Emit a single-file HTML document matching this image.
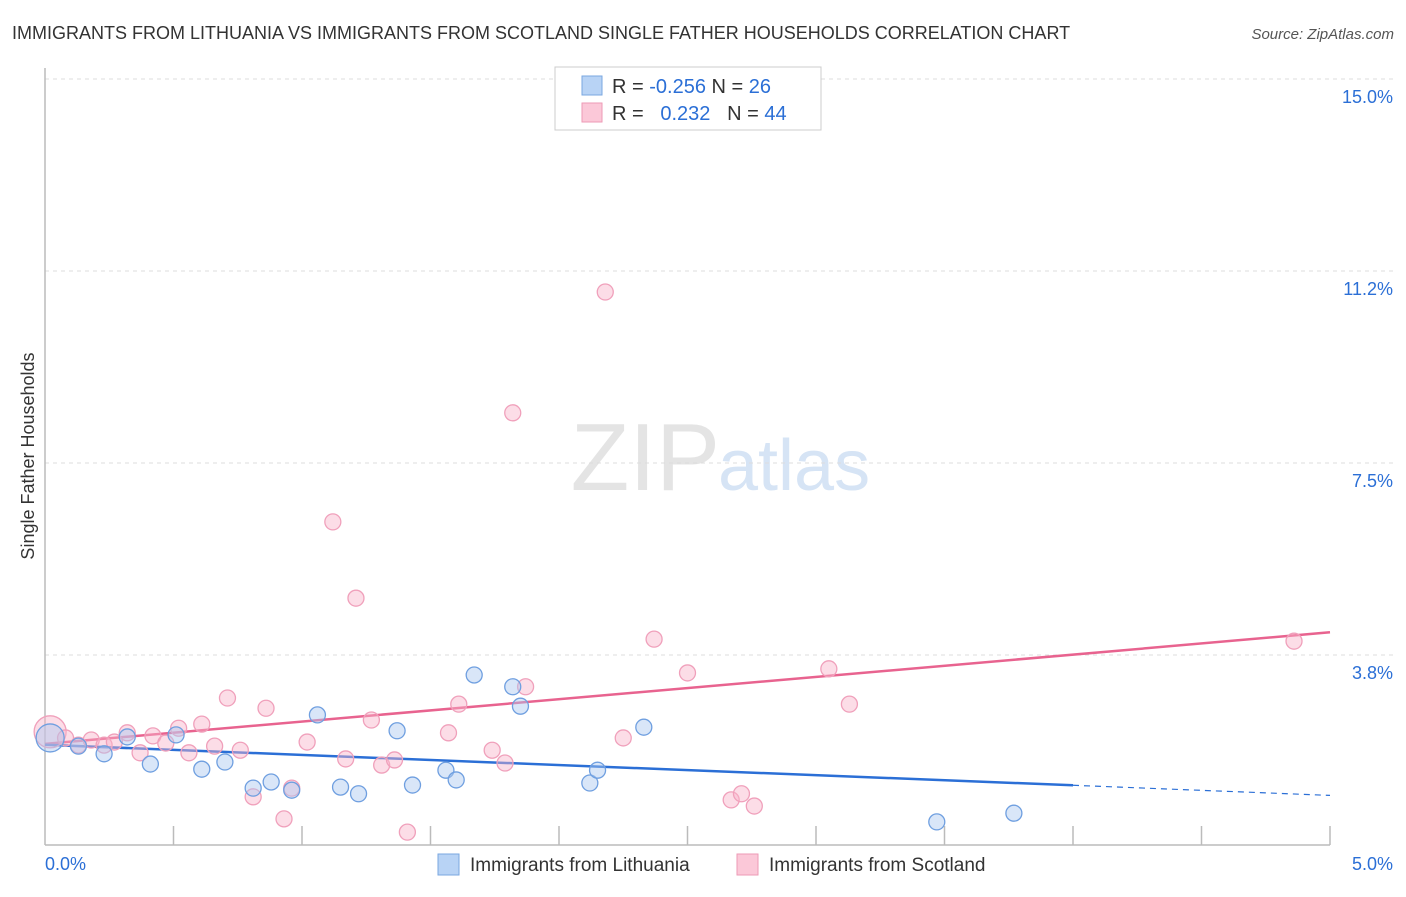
<!DOCTYPE html>
<html><head><meta charset="utf-8"><style>
body{margin:0;background:#fff;font-family:"Liberation Sans",sans-serif;}
svg text{font-family:"Liberation Sans",sans-serif;}
</style></head><body>
<svg id="chart" width="1406" height="892" xmlns="http://www.w3.org/2000/svg">
<text x="12" y="39" font-size="18" fill="#333">IMMIGRANTS FROM LITHUANIA VS IMMIGRANTS FROM SCOTLAND SINGLE FATHER HOUSEHOLDS CORRELATION CHART</text>
<text x="1394" y="39" font-size="15" fill="#555" font-style="italic" text-anchor="end">Source: ZipAtlas.com</text>
<text x="720" y="490" font-size="96" fill="#e4e4e4" text-anchor="end" font-family="Liberation Serif">ZIP</text>
<text x="718" y="490" font-size="72" fill="#d6e4f5">atlas</text>
<text transform="translate(34,456) rotate(-90)" font-size="18" fill="#333" text-anchor="middle">Single Father Households</text>
<g id="grid"></g><g id="axes"></g><g id="trend"></g><g id="pts"></g>
<g>
<rect x="555" y="67" width="266" height="63" fill="#fff" stroke="#ccc"/>
<rect x="582" y="76" width="20" height="19" fill="#b8d3f5" stroke="#7aa7e0"/>
<text x="612" y="93" font-size="20" fill="#333">R = <tspan fill="#2b6fd6">-0.256</tspan>   N = <tspan fill="#2b6fd6">26</tspan></text>
<rect x="582" y="103" width="20" height="19" fill="#fbc8d8" stroke="#ee9ab6"/>
<text x="612" y="120" font-size="20" fill="#333" xml:space="preserve">R =   <tspan fill="#2b6fd6">0.232</tspan>   N = <tspan fill="#2b6fd6">44</tspan></text>
</g>
<g><rect x="438" y="854" width="21" height="21" fill="#b8d3f5" stroke="#7aa7e0"/><text x="470" y="871" font-size="19" fill="#333">Immigrants from Lithuania</text></g>
<g><rect x="737" y="854" width="21" height="21" fill="#fbc8d8" stroke="#ee9ab6"/><text x="769" y="871" font-size="19" fill="#333">Immigrants from Scotland</text></g>
</svg>
<script>
const yTicks=[15.0,11.2,7.5,3.8];
const yTickVals=[15,11.25,7.5,3.75];
const xTickLabels=["0.0%","5.0%"];
const blueX=[0.02,0.13,0.23,0.32,0.41,0.51,0.61,0.70,0.81,0.88,0.96,1.06,1.15,1.22,1.37,1.43,1.56,1.60,1.67,1.82,1.85,2.12,2.15,2.33,3.47,3.77];
const blueY=[2.13,1.97,1.82,2.15,1.62,2.19,1.52,1.66,1.15,1.27,1.11,2.58,1.17,1.04,2.27,1.21,1.50,1.31,3.36,3.13,2.75,1.25,1.50,2.34,0.49,0.66];
const pinkX=[0.02,0.08,0.13,0.18,0.23,0.27,0.32,0.37,0.42,0.47,0.52,0.56,0.61,0.66,0.71,0.76,0.81,0.86,0.93,0.96,1.02,1.12,1.17,1.21,1.27,1.31,1.36,1.41,1.57,1.61,1.74,1.79,1.82,1.87,2.18,2.25,2.37,2.50,2.67,2.71,2.76,3.05,3.13,4.86];
const pinkY=[2.25,2.13,1.99,2.09,1.99,2.05,2.23,1.84,2.17,2.03,2.32,1.84,2.40,1.97,2.91,1.89,0.98,2.71,0.55,1.15,2.05,6.35,1.72,4.86,2.48,1.60,1.70,0.29,2.23,2.79,1.89,1.64,8.48,3.13,10.84,2.13,4.06,3.40,0.92,1.04,0.80,3.48,2.79,4.02];
const NS='http://www.w3.org/2000/svg';
const X=v=>45+v*257, Y=v=>847-v*51.2;
function mk(t,a,p){const e=document.createElementNS(NS,t);for(const k in a)e.setAttribute(k,a[k]);document.getElementById(p).appendChild(e);return e;}
yTickVals.forEach((v,i)=>{
 const l=mk('line',{x1:45,x2:1394,y1:Y(v),y2:Y(v),stroke:'#ddd','stroke-dasharray':'4,4'},'grid');
 
 
 const t=mk('text',{x:1393,y:Y(v)+24,'font-size':18,fill:'#2b6fd6','text-anchor':'end'},'grid');
 t.textContent=yTicks[i].toFixed(1)+'%';
 
 
});
const ax=mk('line',{x1:45,x2:45,y1:68,y2:845,stroke:'#bbb','stroke-width':1.5},'axes');


const bx=mk('line',{x1:45,x2:1330,y1:845,y2:845,stroke:'#bbb','stroke-width':1.5},'axes');


for(let i=1;i<=10;i++){const t=mk('line',{x1:X(i*0.5),x2:X(i*0.5),y1:826,y2:845,stroke:'#bbb','stroke-width':1.5},'axes');
 
 }
[[0,45,'start'],[5,1393,'end']].forEach((d,i)=>{const t=mk('text',{x:d[1],y:870,'font-size':18,fill:'#2b6fd6','text-anchor':d[2]},'axes');t.textContent=xTickLabels[i];
 
 });
function reg(xs,ys){const n=xs.length;let mx=0,my=0;for(let i=0;i<n;i++){mx+=xs[i];my+=ys[i];}mx/=n;my/=n;let sxy=0,sxx=0;for(let i=0;i<n;i++){sxy+=(xs[i]-mx)*(ys[i]-my);sxx+=(xs[i]-mx)**2;}const b=sxy/sxx;return [my-b*mx,b];}
const rb=reg(blueX,blueY), rp=reg(pinkX,pinkY);
const f=(r,x)=>r[0]+r[1]*x;
const tp=mk('line',{x1:X(0),y1:Y(f(rp,0)),x2:X(5),y2:Y(f(rp,5)),stroke:'#e8638f','stroke-width':2.5},'trend');


const bxMax=Math.max(...blueX)+0.23;
const tb=mk('line',{x1:X(0),y1:Y(f(rb,0)),x2:X(bxMax),y2:Y(f(rb,bxMax)),stroke:'#2b6fd6','stroke-width':2.5},'trend');


const td=mk('line',{x1:X(bxMax),y1:Y(f(rb,bxMax)),x2:X(5),y2:Y(f(rb,5)),stroke:'#2b6fd6','stroke-width':1.2,'stroke-dasharray':'6,5'},'trend');


pinkX.forEach((x,i)=>{const c=mk('circle',{cx:X(x),cy:Y(pinkY[i]),r:i==0?16:8,fill:'rgba(248,180,202,0.45)',stroke:'#f0a0bb','stroke-width':1.3},'pts');
 
 });
blueX.forEach((x,i)=>{const c=mk('circle',{cx:X(x),cy:Y(blueY[i]),r:i==0?14:8,fill:'rgba(170,200,240,0.45)',stroke:'#6f9fe0','stroke-width':1.3},'pts');
 
 });
</script>
</body></html>
